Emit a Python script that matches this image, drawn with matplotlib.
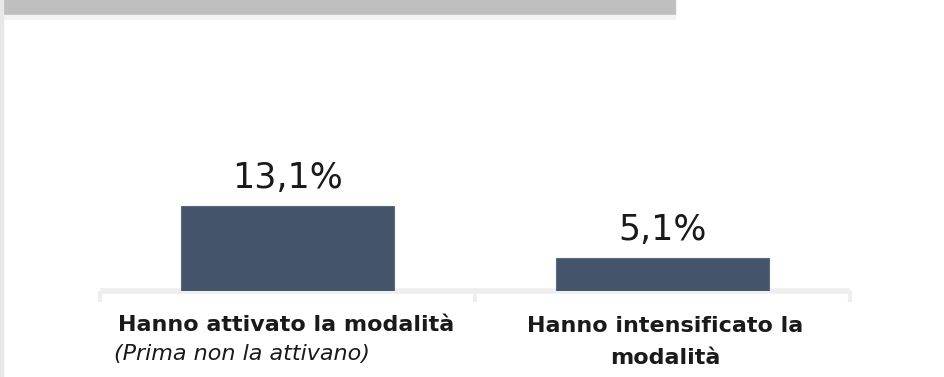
import numpy as np
import matplotlib.pyplot as plt
from matplotlib.patches import Rectangle

# Datos del grafico
categorie = ['Hanno attivato la modalità', 'Hanno intensificato la\nmodalità']
sottotitoli = ['(Prima non la attivano)', '']
valori = [13.1, 5.1]
etichette = ['13,1%', '5,1%']

colore_barra = '#44546A'
colore_asse = '#eeeeee'

fig = plt.figure(figsize=(9.45, 3.77), dpi=100)
ax = fig.add_axes([100 / 945, 86 / 377, 750 / 945, 251 / 377])

x = np.arange(len(valori))
ax.bar(x, valori, width=0.57, color=colore_barra, edgecolor='#5a6a80',
       linewidth=0.8, zorder=3)

# Etichette dei valori sopra le barre
for xi, v, et in zip(x, valori, etichette):
    ax.text(xi, v + 2.8, et, ha='center', va='baseline', fontsize=25, color='#1a1a1a')

ax.set_xlim(-0.5, 1.5)
ax.set_ylim(0, 38.6)

# Solo l'asse orizzontale, con tacche ai bordi delle categorie
for lato in ['top', 'right', 'left']:
    ax.spines[lato].set_visible(False)
ax.spines['bottom'].set_color(colore_asse)
ax.spines['bottom'].set_linewidth(4)
ax.spines['bottom'].set_capstyle('butt')
ax.set_yticks([])
ax.set_xticks([-0.5, 0.5, 1.5])
ax.set_xticklabels([])
ax.tick_params(axis='x', direction='out', length=8, width=3, color=colore_asse)

# Etichette delle categorie
ax.text(-0.452, -5.2, categorie[0], ha='left', va='center', fontsize=16,
        fontweight='bold', color='#1a1a1a', clip_on=False)
ax.text(-0.463, -9.7, sottotitoli[0], ha='left', va='center', fontsize=16,
        style='italic', color='#1a1a1a', clip_on=False)
ax.text(1.007, -7.8, categorie[1], ha='center', va='center', fontsize=16,
        fontweight='bold', color='#1a1a1a', linespacing=1.75, clip_on=False)

# Banda grigia del titolo in alto
fig.patches.append(Rectangle((3 / 945, 1 - 15 / 377), 672 / 945, 15 / 377,
                             transform=fig.transFigure, color='#bfbfbf', zorder=0))
fig.patches.append(Rectangle((3 / 945, 1 - 19 / 377), 672 / 945, 4 / 377,
                             transform=fig.transFigure, color='#f3f3f3', zorder=0))
fig.patches.append(Rectangle((0, 0), 3 / 945, 1, transform=fig.transFigure,
                             color='#e8e8e8', zorder=0))

plt.savefig('out.png', dpi=100)
